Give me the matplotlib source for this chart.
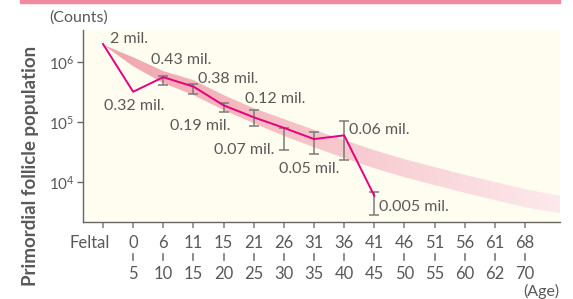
import numpy as np
import matplotlib
matplotlib.use("Agg")
import matplotlib.pyplot as plt
import matplotlib.transforms as mtransforms
from matplotlib.colors import LinearSegmentedColormap

plt.rcParams['font.family'] = ['Lato', 'DejaVu Sans']

# ---- data ----
age_top = ["Feltal", "0", "6", "11", "15", "21", "26", "31", "36", "41", "46", "51", "56", "61", "68"]
age_bottom = ["", "5", "10", "15", "20", "25", "30", "35", "40", "45", "50", "55", "60", "62", "70"]

# plotted follicle counts (first 10 age groups)
counts = [2.0e6, 3.2e5, 5.6e5, 3.9e5, 1.9e5, 1.2e5, 8.0e4, 5.2e4, 6.0e4, 5.9e3]
count_labels = ["2 mil.", "0.32 mil.", "0.43 mil.", "0.38 mil.", "0.19 mil.",
                "0.12 mil.", "0.07 mil.", "0.05 mil.", "0.06 mil.", "0.005 mil."]
# error bars (group index, lower, upper)
err_idx = [2, 3, 4, 5, 6, 7, 8, 9]
err_low = [4.1e5, 2.96e5, 1.45e5, 8.7e4, 3.4e4, 2.9e4, 2.3e4, 2.8e3]
err_high = [5.9e5, 4.3e5, 2.05e5, 1.56e5, 8.1e4, 6.8e4, 1.05e5, 6.8e3]

# trend band (log10 counts) at each age group plus the right edge
band_pos = [0, 1, 2, 3, 4, 5, 6, 7, 8, 9, 10, 11, 12, 13, 14, 15.16]
band_top = [6.29, 6.08, 5.85, 5.70, 5.45, 5.23, 5.05, 4.87, 4.70, 4.53, 4.38, 4.25, 4.12, 4.00, 3.88, 3.77]
band_bot = [6.29, 5.93, 5.65, 5.45, 5.20, 4.98, 4.77, 4.58, 4.40, 4.23, 4.08, 3.95, 3.82, 3.70, 3.58, 3.48]

# label offsets in points (dx, dy)
label_off = [(18.5, 3.6), (1, -10.3), (13, 12.2), (25.2, 5.3), (-16.9, -14.9),
             (15.8, 13), (-28.4, -15.8), (-3.6, -21.6), (25.6, 3.8), (28.4, -7.9)]

TXT = '#595959'
W, H = 573, 299
fig = plt.figure(figsize=(W / 100, H / 100), dpi=100)
ax = fig.add_axes([83 / W, 1 - 222 / H, (560 - 83) / W, (222 - 30) / H])
ax.set_facecolor('#FFFDF0')

# top pink bar
fig.patches.append(matplotlib.patches.Rectangle((20 / W, 1 - 3 / H), 540 / W, 3 / H,
                                                transform=fig.transFigure, color='#F08A9E'))

ax.set_yscale('log')
ax.set_xlim(-0.664, 15.16)
ax.set_ylim(10 ** 3.333, 10 ** 6.535)

# band with gradient
poly = ax.fill_between(band_pos, 10 ** np.array(band_top), 10 ** np.array(band_bot),
                       facecolor='none', edgecolor='none')
cmap = LinearSegmentedColormap.from_list('b', ['#F0A3AA', '#F6C6CB', '#FDE9EC'])
grad = np.linspace(0, 1, 256).reshape(1, -1)
im = ax.imshow(grad, cmap=cmap, extent=[0, 1, 0, 1], transform=ax.transAxes,
               aspect='auto', zorder=1)
paths = poly.get_paths()
im.set_clip_path(paths[0], transform=ax.transData)

# error bars
xe = np.array(err_idx)
ax.vlines(xe, err_low, err_high, color='#7a7a7a', lw=1.1, zorder=3)
for lo_hi in (err_low, err_high):
    ax.plot(xe, lo_hi, linestyle='none', marker='_', ms=7, mew=1.1, color='#7a7a7a', zorder=3)

# main line
xs = np.arange(len(counts))
ax.plot(xs, counts, color='#E5007D', lw=1.4, zorder=4)

for i, (lab, off) in enumerate(zip(count_labels, label_off)):
    ax.annotate(lab, (xs[i], counts[i]), xytext=off, textcoords='offset points',
                ha='center', va='center', fontsize=11.5, color=TXT, zorder=5)

# axes styling
for s in ['top', 'right']:
    ax.spines[s].set_visible(False)
for s in ['left', 'bottom']:
    ax.spines[s].set_color('#666666')
    ax.spines[s].set_linewidth(1.0)

ax.set_yticks([1e4, 1e5, 1e6])
ax.yaxis.set_minor_locator(matplotlib.ticker.NullLocator())
ax.tick_params(axis='y', colors='#666666', labelcolor=TXT, labelsize=11, length=4, width=1, pad=2)

ax.set_xticks(range(len(age_top)))
ax.set_xticklabels(age_top)
ax.tick_params(axis='x', colors='#888888', labelcolor=TXT, labelsize=12, length=4, width=1.2, pad=5)
first = ax.get_xticklabels()[0]
first.set_transform(first.get_transform() +
                    mtransforms.ScaledTranslation(-13 / 100, 0, fig.dpi_scale_trans))

trans = mtransforms.blended_transform_factory(ax.transData, ax.transAxes)
for i, b in enumerate(age_bottom):
    if b:
        ax.plot([i, i], [-0.168, -0.2], color='#777777', lw=1.2, transform=trans, clip_on=False)
        ax.text(i, -0.27, b, transform=trans, ha='center', va='center', fontsize=12, color=TXT)

fig.text(79 / W, 1 - 17.7 / H, "(Counts)", ha='center', va='center', fontsize=11.5, color=TXT)
fig.text(541 / W, 1 - 291 / H, "(Age)", ha='center', va='center', fontsize=11.5, color=TXT)
fig.text(31 / W, 1 - 166 / H, "Primordial follicle population", rotation=90,
         ha='center', va='center', fontsize=13.5, fontweight='bold', color=TXT)

fig.savefig('out.png', dpi=100)
